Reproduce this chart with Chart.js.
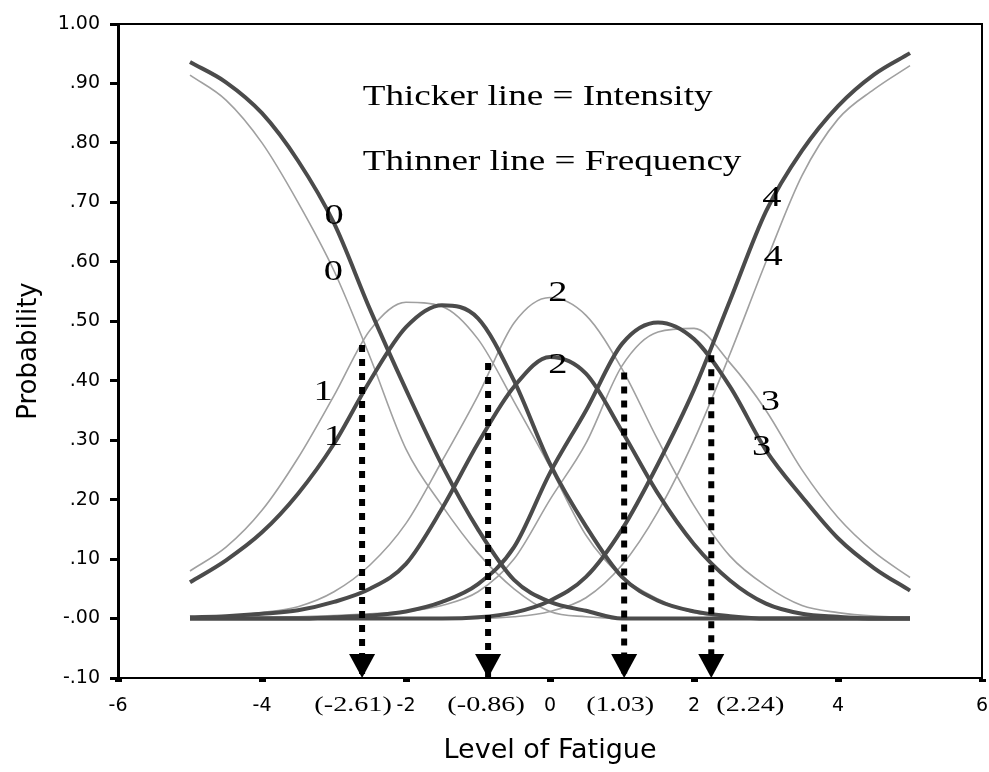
<!DOCTYPE html>
<html>
<head>
<meta charset="utf-8">
<title>Probability by level of fatigue</title>
<script src="https://cdn.jsdelivr.net/npm/chart.js@4.4.1/dist/chart.umd.min.js"></script>
<style>
    body { margin: 0; background: #fff; }
    #wrap { width: 989px; height: 772px; }
</style>
</head>
<body>
<div id="wrap"><canvas id="fatigueChart"></canvas></div>
<script>
// level of fatigue (x) where each curve was read
const levels = [-5, -4.5, -4, -3.5, -3, -2.5, -2, -1.5, -1, -0.5, 0, 0.5, 1, 1.5, 2, 2.5, 3, 3.5, 4, 4.5, 5];

// thicker lines = intensity, categories 0..4
const intensity0 = [0.936, 0.902, 0.85, 0.77, 0.665, 0.52, 0.385, 0.258, 0.15, 0.065, 0.028, 0.013, 0, 0, 0, 0, 0, 0, 0, 0, 0];
const intensity1 = [0.061, 0.098, 0.145, 0.21, 0.294, 0.40, 0.49, 0.527, 0.505, 0.40, 0.26, 0.155, 0.07, 0.03, 0.012, 0.004, 0, 0, 0, 0, 0];
const intensity2 = [0.002, 0.004, 0.008, 0.014, 0.028, 0.05, 0.092, 0.185, 0.295, 0.39, 0.44, 0.412, 0.315, 0.21, 0.125, 0.064, 0.025, 0.008, 0.003, 0, 0];
const intensity3 = [0, 0, 0, 0, 0.002, 0.005, 0.012, 0.028, 0.058, 0.12, 0.245, 0.35, 0.462, 0.498, 0.47, 0.39, 0.283, 0.205, 0.135, 0.085, 0.047];
const intensity4 = [0, 0, 0, 0, 0, 0, 0, 0, 0.002, 0.01, 0.03, 0.07, 0.15, 0.26, 0.385, 0.535, 0.685, 0.787, 0.862, 0.915, 0.951];

// thinner lines = frequency, categories 0..4
const frequency0 = [0.914, 0.872, 0.80, 0.70, 0.585, 0.44, 0.285, 0.19, 0.11, 0.05, 0.012, 0.003, 0, 0, 0, 0, 0, 0, 0, 0, 0];
const frequency1 = [0.08, 0.12, 0.182, 0.27, 0.375, 0.485, 0.532, 0.525, 0.47, 0.365, 0.255, 0.14, 0.07, 0.033, 0.01, 0.003, 0, 0, 0, 0, 0];
const frequency2 = [0.002, 0.004, 0.01, 0.02, 0.045, 0.09, 0.16, 0.265, 0.375, 0.497, 0.54, 0.51, 0.42, 0.30, 0.19, 0.105, 0.055, 0.022, 0.01, 0.004, 0.002];
const frequency3 = [0, 0, 0.002, 0.003, 0.005, 0.008, 0.012, 0.022, 0.045, 0.10, 0.20, 0.295, 0.425, 0.482, 0.488, 0.43, 0.35, 0.25, 0.17, 0.112, 0.069];
const frequency4 = [0, 0, 0, 0, 0, 0, 0, 0, 0, 0.003, 0.012, 0.035, 0.09, 0.18, 0.30, 0.445, 0.60, 0.745, 0.84, 0.89, 0.93];

// thresholds marked with dotted arrows
const cutPoints = [-2.61, -0.86, 1.03, 2.24];
const cutTops = [0.46, 0.43, 0.414, 0.443];
const cutLabels = ['(-2.61)', '(-0.86)', '(1.03)', '(2.24)'];
const cutLabelShift = [-9, -2, -4, 39];

const yTickLabels = ['-.10', '-.00', '.10', '.20', '.30', '.40', '.50', '.60', '.70', '.80', '.90', '1.00'];
const yMin = -0.1;
const yMax = 1.0;

// category numbers written next to the curves
const curveLabels = [
    { text: '0', x: -3.0, y: 0.677 },
    { text: '0', x: -3.01, y: 0.582 },
    { text: '1', x: -3.15, y: 0.38 },
    { text: '1', x: -3.01, y: 0.305 },
    { text: '2', x: 0.11, y: 0.547 },
    { text: '2', x: 0.11, y: 0.426 },
    { text: '4', x: 3.08, y: 0.707 },
    { text: '4', x: 3.10, y: 0.608 },
    { text: '3', x: 3.06, y: 0.364 },
    { text: '3', x: 2.94, y: 0.288 }
];

const notes = [
    { text: 'Thicker line = Intensity', x: -2.6, y: 0.877 },
    { text: 'Thinner line = Frequency', x: -2.6, y: 0.768 }
];

function toPoints(values) {
    return levels.map((x, i) => ({ x: x, y: values[i] }));
}

function curve(values, thick) {
    return {
        data: toPoints(values),
        borderColor: thick ? '#4b4b4b' : '#a0a0a0',
        borderWidth: thick ? 4 : 1.6,
        pointRadius: 0,
        cubicInterpolationMode: 'monotone',
        fill: false,
        order: thick ? 2 : 3
    };
}

function cutLine(index) {
    return {
        data: [{ x: cutPoints[index], y: cutTops[index] }, { x: cutPoints[index], y: yMin }],
        borderColor: '#000',
        borderWidth: 6,
        borderDash: [7, 7],
        borderCapStyle: 'butt',
        pointRadius: 0,
        order: 1
    };
}

function serifText(ctx, text, px, py, size, align) {
    ctx.save();
    ctx.font = size + "px 'Liberation Serif', 'Times New Roman', serif";
    ctx.textAlign = align;
    ctx.textBaseline = 'middle';
    ctx.fillStyle = '#000';
    ctx.translate(px, py);
    ctx.scale(1.28, 1);
    ctx.fillText(text, 0, 0);
    ctx.restore();
}

const annotations = {
    id: 'annotations',
    afterDatasetsDraw(chart) {
        const { ctx, chartArea, scales: { x, y } } = chart;
        ctx.save();

        // top and right side of the frame
        ctx.strokeStyle = '#000';
        ctx.lineWidth = 2;
        ctx.beginPath();
        ctx.moveTo(chartArea.left, chartArea.top);
        ctx.lineTo(chartArea.right, chartArea.top);
        ctx.lineTo(chartArea.right, chartArea.bottom);
        ctx.stroke();

        // arrow heads on the x axis
        ctx.fillStyle = '#000';
        const base = y.getPixelForValue(yMin);
        cutPoints.forEach((cut, i) => {
            const px = x.getPixelForValue(cut);
            ctx.beginPath();
            ctx.moveTo(px, base);
            ctx.lineTo(px - 13, base - 24);
            ctx.lineTo(px + 13, base - 24);
            ctx.closePath();
            ctx.fill();
            serifText(ctx, cutLabels[i], px + cutLabelShift[i], base + 27, 22, 'center');
        });

        curveLabels.forEach(l => {
            serifText(ctx, l.text, x.getPixelForValue(l.x), y.getPixelForValue(l.y), 30, 'center');
        });

        notes.forEach(n => {
            serifText(ctx, n.text, x.getPixelForValue(n.x), y.getPixelForValue(n.y), 29, 'left');
        });

        ctx.restore();
    }
};

const sansTicks = { family: "'DejaVu Sans', sans-serif", size: 19 };

const chart = new Chart(document.getElementById('fatigueChart').getContext('2d'), {
    type: 'line',
    data: {
        datasets: [
            cutLine(0), cutLine(1), cutLine(2), cutLine(3),
            curve(intensity0, true), curve(intensity1, true), curve(intensity2, true),
            curve(intensity3, true), curve(intensity4, true),
            curve(frequency0, false), curve(frequency1, false), curve(frequency2, false),
            curve(frequency3, false), curve(frequency4, false)
        ]
    },
    options: {
        responsive: true,
        maintainAspectRatio: false,
        animation: false,
        layout: { autoPadding: false, padding: { top: 24, right: 7, left: 0, bottom: 0 } },
        plugins: {
            legend: { display: false },
            tooltip: { enabled: false }
        },
        scales: {
            x: {
                type: 'linear',
                min: -6,
                max: 6,
                afterFit: scale => {
                    scale.height = 94;
                    scale.paddingLeft = 0;
                    scale.paddingRight = 0;
                },
                ticks: { stepSize: 2, color: '#000', font: sansTicks, padding: 13, maxRotation: 0 },
                grid: { drawOnChartArea: false, tickLength: 4, tickWidth: 7, tickColor: '#000' },
                border: { display: true, color: '#000', width: 2 },
                title: {
                    display: true,
                    text: 'Level of Fatigue',
                    color: '#000',
                    font: { family: "'DejaVu Sans', sans-serif", size: 27 },
                    padding: { top: 0, bottom: 5 }
                }
            },
            y: {
                type: 'linear',
                min: yMin,
                max: yMax,
                afterFit: scale => {
                    scale.width = 118;
                    scale.paddingTop = 0;
                    scale.paddingBottom = 0;
                },
                ticks: {
                    stepSize: 0.1,
                    color: '#000',
                    font: sansTicks,
                    padding: 10,
                    callback: (value, index) => yTickLabels[index]
                },
                grid: { drawOnChartArea: false, tickLength: 8, tickWidth: 3, tickColor: '#000' },
                border: { display: true, color: '#000', width: 3 },
                title: {
                    display: true,
                    text: 'Probability',
                    color: '#000',
                    font: { family: "'DejaVu Sans', sans-serif", size: 26 },
                    padding: { top: 14, bottom: 0 }
                }
            }
        }
    },
    plugins: [annotations]
});
</script>
</body>
</html>
